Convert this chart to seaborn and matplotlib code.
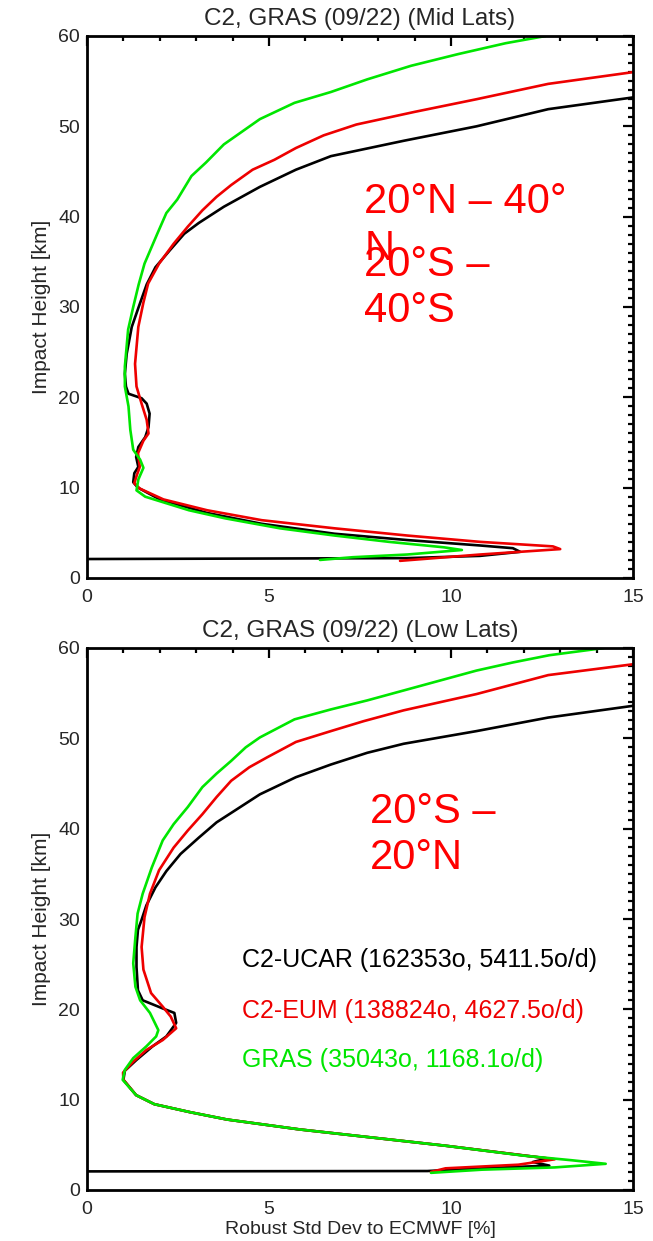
import numpy as np
import pandas as pd
import matplotlib
matplotlib.use("Agg")
import matplotlib.pyplot as plt
import seaborn as sns
from matplotlib.ticker import MultipleLocator

# ---------------- data ----------------
# Mid latitudes panel
mid_black_h = [53.2, 51.9, 50.0, 48.4, 46.7, 45.2, 43.3, 41.1, 39.3, 38.1, 36.3, 34.4, 32.5, 30.0,
               27.8, 24.8, 22.6, 21.2, 20.4, 19.9, 19.3, 18.2, 16.7, 15.6, 14.5, 13.4, 12.3, 11.6,
               10.6, 10.0, 8.7, 7.2, 6.0, 4.9, 4.2, 3.6, 3.3, 2.9, 2.45, 2.2, 2.1]
mid_black_v = [15.0, 12.67, 10.7, 8.7, 6.7, 5.74, 4.75, 3.76, 3.07, 2.67, 2.28, 1.88, 1.64, 1.42,
               1.23, 1.09, 1.04, 1.07, 1.14, 1.5, 1.64, 1.72, 1.69, 1.6, 1.41, 1.35, 1.41, 1.3,
               1.27, 1.4, 2.0, 3.3, 4.8, 6.8, 8.8, 10.8, 11.7, 11.9, 10.8, 8.8, 0.0]

mid_red_h = [56.0, 54.7, 53.0, 51.6, 50.2, 49.0, 47.6, 46.3, 45.2, 43.5, 42.2, 40.7, 38.9, 37.0,
             34.8, 32.6, 30.5, 27.8, 23.7, 21.2, 19.3, 17.5, 16.0, 15.2, 13.8, 12.3, 11.4, 10.5,
             9.9, 8.7, 7.5, 6.4, 5.5, 4.7, 4.0, 3.5, 3.2, 2.6, 1.9]
mid_red_v = [15.0, 12.67, 10.7, 9.0, 7.4, 6.5, 5.74, 5.15, 4.55, 3.96, 3.56, 3.17, 2.77, 2.38,
             1.98, 1.68, 1.55, 1.41, 1.32, 1.36, 1.5, 1.64, 1.69, 1.55, 1.40, 1.45, 1.37, 1.30,
             1.45, 2.1, 3.3, 4.8, 6.8, 8.8, 10.8, 12.8, 13.0, 10.8, 8.6]

mid_green_h = [60.0, 59.2, 58.0, 56.7, 55.2, 53.8, 52.6, 50.8, 48.0, 46.0, 44.5, 41.9, 40.4, 38.1,
               34.8, 32.5, 30.0, 27.5, 23.4, 21.2, 19.0, 16.4, 14.2, 13.1, 12.2, 10.9, 9.7, 9.0,
               7.5, 6.6, 5.5, 4.7, 4.0, 3.4, 3.1, 2.6, 2.3, 2.0]
mid_green_v = [12.6, 11.5, 10.2, 8.9, 7.7, 6.7, 5.7, 4.75, 3.76, 3.27, 2.87, 2.48, 2.18, 1.93,
               1.58, 1.42, 1.27, 1.13, 1.04, 1.04, 1.14, 1.19, 1.27, 1.46, 1.55, 1.41, 1.36, 1.6,
               2.8, 3.8, 5.3, 6.8, 8.3, 9.8, 10.3, 8.8, 7.3, 6.4]

# Low latitudes panel
low_black_h = [53.6, 52.3, 50.8, 49.4, 48.4, 47.1, 45.7, 43.8, 42.0, 40.7, 39.0, 37.2, 35.3, 33.5,
               31.5, 29.8, 28.8, 26.9, 24.7, 22.1, 21.0, 20.1, 19.6, 18.5, 17.0, 15.9, 14.4, 13.2,
               12.2, 10.5, 9.5, 8.6, 7.8, 6.7, 5.8, 4.9, 3.9, 3.5, 3.1, 2.7, 2.4, 2.1, 2.06]
low_black_v = [15.0, 12.67, 10.7, 8.7, 7.7, 6.7, 5.74, 4.75, 4.06, 3.56, 3.07, 2.57, 2.18, 1.88,
               1.63, 1.49, 1.40, 1.36, 1.36, 1.40, 1.53, 2.08, 2.40, 2.45, 2.18, 1.80, 1.36, 1.04,
               1.0, 1.35, 1.85, 2.85, 3.85, 5.85, 7.85, 9.85, 11.85, 12.65, 12.25, 12.7, 10.85, 9.35, 0.0]

low_red_h = [58.2, 57.0, 54.9, 53.1, 51.9, 50.8, 49.6, 47.9, 46.8, 45.3, 43.5, 41.6, 39.8, 37.9,
             35.4, 32.8, 30.2, 26.9, 24.4, 21.8, 20.3, 19.2, 17.9, 16.6, 15.5, 14.2, 13.0, 12.2,
             10.5, 9.5, 8.6, 7.8, 6.7, 5.8, 4.9, 3.9, 3.4, 2.8, 2.4, 2.0]
low_red_v = [15.0, 12.67, 10.7, 8.7, 7.6, 6.7, 5.74, 4.95, 4.46, 3.96, 3.56, 3.17, 2.77, 2.38,
             1.98, 1.73, 1.58, 1.50, 1.55, 1.76, 2.08, 2.30, 2.45, 2.08, 1.63, 1.27, 0.99, 1.0,
             1.35, 1.85, 2.85, 3.85, 5.85, 7.85, 9.85, 11.85, 12.85, 11.85, 9.85, 9.45]

low_green_h = [60.0, 59.2, 58.4, 57.5, 56.4, 55.3, 54.2, 53.2, 52.1, 50.1, 49.0, 47.5, 46.1, 44.6,
               42.4, 40.5, 38.7, 35.7, 32.8, 30.6, 28.0, 25.1, 22.5, 21.0, 19.6, 17.7, 17.0, 15.9,
               14.6, 13.3, 12.2, 10.5, 9.5, 8.6, 7.8, 6.7, 5.8, 4.9, 3.8, 3.3, 2.9, 2.5, 2.25, 1.9]
low_green_v = [14.2, 12.7, 11.7, 10.7, 9.7, 8.7, 7.7, 6.7, 5.7, 4.75, 4.36, 3.96, 3.56, 3.17,
               2.77, 2.38, 2.08, 1.78, 1.53, 1.39, 1.33, 1.27, 1.33, 1.46, 1.73, 1.96, 1.90, 1.63,
               1.27, 1.04, 0.98, 1.35, 1.85, 2.85, 3.85, 5.85, 7.85, 9.85, 12.0, 13.3, 14.25, 12.85,
               10.85, 9.45]

titles = ["C2, GRAS (09/22) (Mid Lats)", "C2, GRAS (09/22) (Low Lats)"]
ylabel = "Impact Height [km]"
xlabel = "Robust Std Dev to ECMWF [%]"
xticks = [0, 5, 10, 15]
yticks = [0, 10, 20, 30, 40, 50, 60]
region_mid = ["20°N – 40°\nN", "20°S –\n40°S"]
region_low = "20°S –\n20°N"
legend_labels = ["C2-UCAR (162353o, 5411.5o/d)",
                 "C2-EUM (138824o, 4627.5o/d)",
                 "GRAS (35043o, 1168.1o/d)"]

C_BLACK, C_RED, C_GREEN = "#000000", "#ee0000", "#00e600"

# ---------------- plotting ----------------
sns.set_style("white")
plt.rcParams["font.family"] = ["Liberation Sans", "DejaVu Sans"]

fig = plt.figure(figsize=(6.53, 12.41), dpi=100)
W, H = 653, 1241
ax1 = fig.add_axes([87 / W, (H - 578) / H, 546 / W, 542 / H])
ax2 = fig.add_axes([87 / W, (H - 1190) / H, 546 / W, 542 / H])

panels = [
    (ax1, [(mid_black_h, mid_black_v, C_BLACK), (mid_red_h, mid_red_v, C_RED),
           (mid_green_h, mid_green_v, C_GREEN)]),
    (ax2, [(low_black_h, low_black_v, C_BLACK), (low_red_h, low_red_v, C_RED),
           (low_green_h, low_green_v, C_GREEN)]),
]

for i, (ax, series) in enumerate(panels):
    for h, v, c in series:
        df = pd.DataFrame({"v": v, "h": h})
        sns.lineplot(data=df, x="v", y="h", sort=False, estimator=None,
                     color=c, linewidth=1.9, ax=ax)
    ax.set_xlim(0, 15)
    ax.set_ylim(0, 60)
    ax.set_xticks(xticks)
    ax.set_yticks(yticks)
    ax.xaxis.set_minor_locator(MultipleLocator(1))
    ax.yaxis.set_minor_locator(MultipleLocator(1))
    ax.tick_params(which="both", direction="in", top=True, right=True,
                   width=1.6, color="black", labelsize=14)
    ax.tick_params(which="major", length=7.5)
    ax.tick_params(which="minor", length=3.8)
    ax.tick_params(axis="x", pad=8)
    ax.tick_params(axis="y", pad=5)
    for sp in ax.spines.values():
        sp.set_linewidth(2.0)
        sp.set_color("black")
    ax.set_title(titles[i], fontsize=17.5, pad=8)
    ax.set_ylabel(ylabel, fontsize=15, labelpad=5)
    ax.set_xlabel("")

ax2.set_xlabel(xlabel, fontsize=14, labelpad=2)

# region annotations
ax1.text(7.62, 43.8, region_mid[0], color="red", fontsize=30, va="top", ha="left",
         linespacing=1.22)
ax1.text(7.62, 36.9, region_mid[1], color="red", fontsize=30, va="top", ha="left",
         linespacing=1.22)
ax2.text(7.78, 44.1, region_low, color="red", fontsize=30, va="top", ha="left",
         linespacing=1.22)

# legend texts
for lab, yb, c in zip(legend_labels, [24.7, 19.0, 13.65], [C_BLACK, C_RED, C_GREEN]):
    ax2.text(4.25, yb, lab, color=c, fontsize=18, va="baseline", ha="left")

fig.savefig("out.png", dpi=100)
